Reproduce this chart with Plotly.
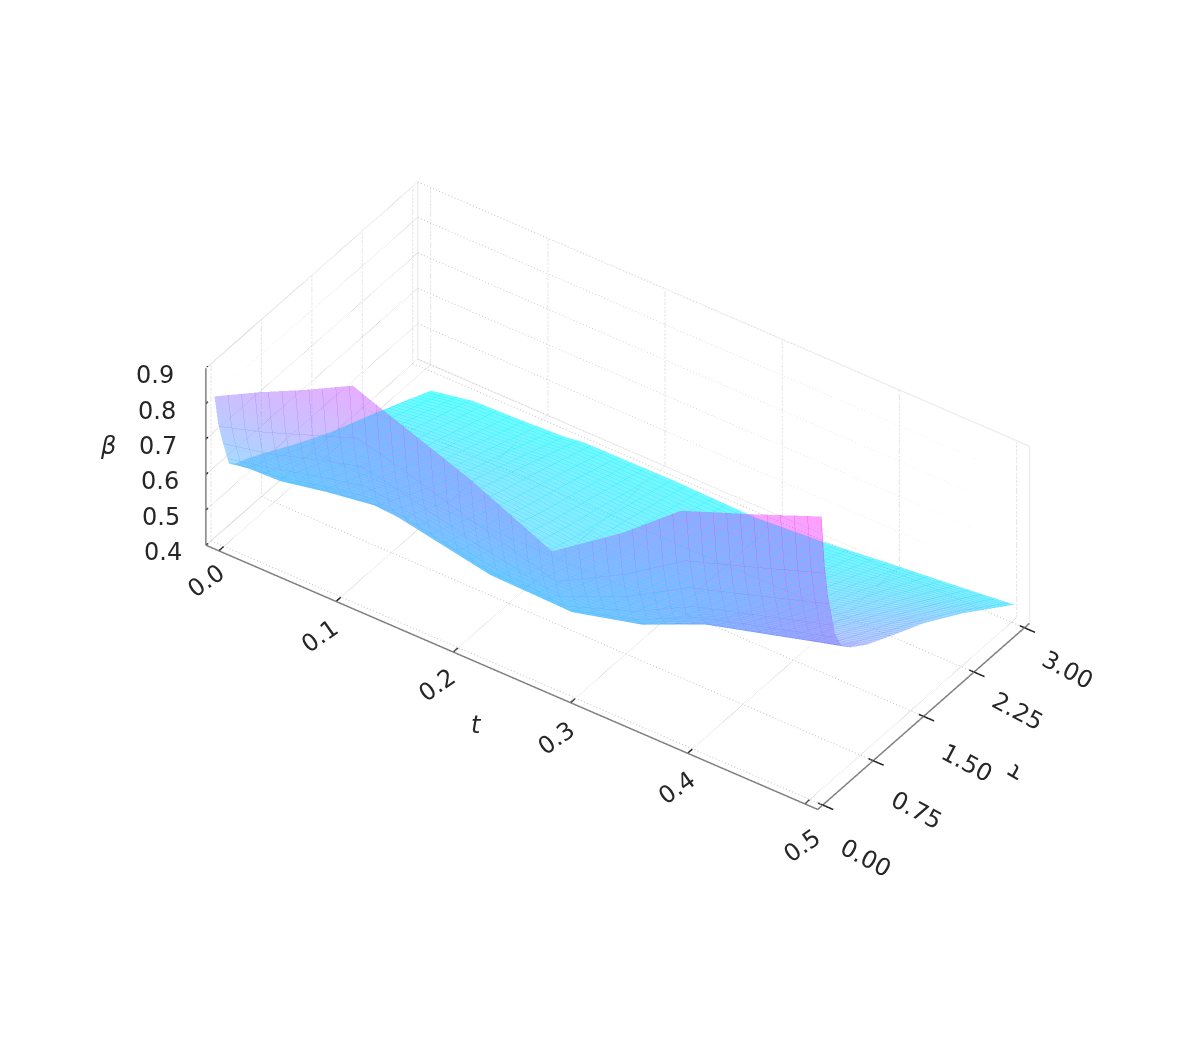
import plotly.graph_objects as go

t_values = [-0.008, 0.03, 0.07, 0.11, 0.13, 0.21, 0.28, 0.34, 0.39, 0.45, 0.51]
# small per-column correction of t along tau: the reference is drawn in perspective, this view is orthographic
t_shift_at_tau_3 = [0.0127, 0.0107, 0.0088, 0.0068, 0.0049, 0.0030, 0.0010, -0.0010, -0.0030, -0.0050, -0.0076]
tau_values = [0, 0.05, 0.1, 0.2, 0.3, 0.45, 0.7, 1.1, 1.6, 2.2, 3.0]
beta_tau_000 = [.812, .878, .942, 1.011, .986, .89, .786, .924, 1.058, 1.134, 1.213]
beta_tau_005 = [.728, .769, .819, .87, .853, .773, .701, .811, .923, .991, 1.061]
beta_tau_010 = [.677, .703, .745, .785, .772, .703, .65, .743, .842, .905, .97]
beta_tau_020 = [.59, .617, .649, .675, .668, .611, .59, .655, .736, .794, .852]
beta_tau_030 = [.575, .579, .605, .625, .621, .57, .565, .615, .689, .743, .798]
beta_tau_045 = [.564, .556, .58, .596, .594, .546, .552, .592, .661, .714, .767]
beta_tau_070 = [.54, .535, .557, .572, .571, .529, .53, .571, .634, .683, .732]
beta_tau_110 = [.499, .5, .518, .531, .532, .499, .495, .534, .587, .64, .69]
beta_tau_160 = [.453, .46, .474, .485, .488, .465, .458, .493, .535, .585, .64]
beta_tau_220 = [.409, .423, .432, .441, .446, .434, .428, .454, .486, .524, .565]
beta_tau_300 = [.346, .368, .372, .378, .386, .388, .383, .397, .414, .433, .453]
beta_rows = [beta_tau_000, beta_tau_005, beta_tau_010, beta_tau_020, beta_tau_030, beta_tau_045,
             beta_tau_070, beta_tau_110, beta_tau_160, beta_tau_220, beta_tau_300]

t_ticks = [0.0, 0.1, 0.2, 0.3, 0.4, 0.5]
tau_ticks = [0.0, 0.75, 1.5, 2.25, 3.0]
beta_ticks = [0.4, 0.5, 0.6, 0.7, 0.8, 0.9]
t_range = [-0.011, 0.511]
tau_range = [-0.075, 3.075]
beta_range = [0.4, 0.9]
scene_beta_range = [0.34, 1.25]

GRID = "#cccccc"
PANE = "#eeeeee"
AXIS = "#808080"
TICK = "#222222"
TEXT = "#262626"
FONT = "DejaVu Sans"
W, H, ML, MB = 1196, 1042, 34, 62

t_grid = [[t + s * tau / 3 for t, s in zip(t_values, t_shift_at_tau_3)] for tau in tau_values]
tau_grid = [[tau for _ in t_values] for tau in tau_values]

fig = go.Figure()
fig.add_trace(go.Surface(
    x=t_grid, y=tau_grid, z=beta_rows,
    colorscale=[[0, "rgb(0,255,255)"], [1, "rgb(255,0,255)"]],
    cmin=0.346, cmax=1.213, showscale=False, hoverinfo="skip",
    opacity=1, opacityscale=[[0, 0.6], [0.3, 0.5], [0.55, 0.45], [1, 0.38]],
    lighting=dict(ambient=1, diffuse=0, specular=0, fresnel=0),
    contours=dict(
        x=dict(show=True, start=-0.008, end=0.51, size=0.0115, usecolormap=True, width=2, highlight=False),
        y=dict(show=True, start=0.0, end=3.0, size=0.06, usecolormap=True, width=1, highlight=False),
        z=dict(highlight=False),
    ),
))

def line(xs, ys, zs, color, dash, width):
    fig.add_trace(go.Scatter3d(x=xs, y=ys, z=zs, mode="lines", hoverinfo="skip", showlegend=False,
                               line=dict(color=color, dash=dash, width=width)))

t0, t1 = t_range
u0, u1 = tau_range
b0, b1 = beta_range
for v in t_ticks:
    line([v, v], [u1, u1], [b0, b1], GRID, "dot", 2)
    line([v, v], [u0, u1], [b0, b0], GRID, "dot", 2)
for v in tau_ticks:
    line([t0, t0], [v, v], [b0, b1], GRID, "dot", 2)
    line([t0, t1], [v, v], [b0, b0], GRID, "dot", 2)
for v in beta_ticks:
    line([t0, t1], [u1, u1], [v, v], GRID, "dot", 2)
    line([t0, t0], [u0, u1], [v, v], GRID, "dot", 2)
line([t0, t1, t1], [u1, u1, u1], [b1, b1, b0], PANE, "solid", 3)
line([t0, t0, t0], [u0, u1, u1], [b1, b1, b0], PANE, "solid", 3)
line([t0, t1], [u1, u1], [b0, b0], PANE, "solid", 3)
line([t0, t0], [u0, u1], [b0, b0], PANE, "solid", 3)
line([t0, t1], [u0, u0], [b0, b0], AXIS, "solid", 3)
line([t1, t1], [u0, u1], [b0, b0], AXIS, "solid", 3)
line([t0, t0], [u0, u0], [b0, b1], AXIS, "solid", 3)
for v in t_ticks:
    line([v, v], [u0 - 0.07, u0 + 0.07], [b0, b0], TICK, "solid", 3)
for v in tau_ticks:
    line([t1 - 0.004, t1 + 0.009], [v, v], [b0, b0], TICK, "solid", 3)
for v in beta_ticks:
    line([t0, t0], [u0 - 0.09, u0 + 0.03], [v, v], TICK, "solid", 3)

def hidden_axis(rng):
    return dict(range=rng, autorange=False, visible=False, showspikes=False)

def title(text, x, y, angle=0):
    return dict(text=text, xref="paper", yref="paper", x=(x - ML - 7) / (W - ML), y=1 - (y - 8) / (H - MB),
                showarrow=False, textangle=angle, xanchor="center", yanchor="middle",
                font=dict(family=FONT, size=24, color=TEXT))

def tick_label(text, x, y, z, dx, dy, angle):
    return dict(text=text, x=x, y=y, z=z, showarrow=False, textangle=angle, xanchor="center", yanchor="middle",
                xshift=dx, yshift=-dy, font=dict(family=FONT, size=24, color=TEXT))

t_dx = [-13, -16, -16, -14, -11, -3]
t_dy = [30, 35, 33, 35, 35, 42]
tau_dy = [53, 49, 47, 39, 42]
beta_dx = [-43, -45, -46, -48, -49, -51]
labels = [tick_label(f"{v:.1f}", v, u0, b0, a, b, -35) for v, a, b in zip(t_ticks, t_dx, t_dy)]
labels += [tick_label(f"{v:.2f}", t1, v, b0, 43, b, 28) for v, b in zip(tau_ticks, tau_dy)]
labels += [tick_label(f"{v:.1f}", t0, u0, v, a, 7, 0) for v, a in zip(beta_ticks, beta_dx)]

fig.update_layout(
    width=W, height=H, margin=dict(l=ML, r=0, t=0, b=MB),
    paper_bgcolor="white", showlegend=False,
    annotations=[title("<i>t</i>", 475, 725), title("τ", 1014, 773, -150), title("<i>β</i>", 107, 446)],
    scene=dict(
        xaxis=hidden_axis([-0.011, 0.52]),
        yaxis=hidden_axis(tau_range),
        zaxis=hidden_axis(scene_beta_range),
        aspectmode="manual", aspectratio=dict(x=1.551, y=0.753, z=0.835),
        camera=dict(projection=dict(type="orthographic"), eye=dict(x=1.36, y=-1.94, z=1.72),
                    center=dict(x=0, y=0, z=-0.133), up=dict(x=0, y=0, z=1)),
        annotations=labels,
        bgcolor="white",
    ),
)
fig.write_html("out.html")
